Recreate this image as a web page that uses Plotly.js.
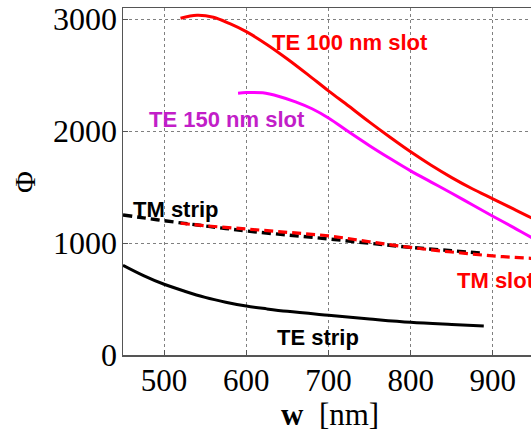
<!DOCTYPE html>
<html>
<head>
<meta charset="utf-8">
<script src="https://cdn.plot.ly/plotly-3.0.1.min.js"></script>
<style>
  html, body { margin: 0; padding: 0; overflow: hidden; background: #fff; }
  #chart { width: 600px; height: 432px; }
</style>
</head>
<body>
<div id="chart"></div>
<script>
// Width w [nm] and Phi values
const xTE100 = [520, 540, 560, 580, 600, 625, 650, 675, 700, 725, 750, 775, 800, 825, 850, 875, 900, 925, 950, 975];
const yTE100 = [3009, 3036, 3018, 2960, 2889, 2775, 2645, 2505, 2360, 2222, 2080, 1945, 1815, 1695, 1585, 1485, 1395, 1305, 1215, 1130];

const xTE150 = [590, 600, 620, 640, 660, 680, 700, 725, 750, 775, 800, 825, 850, 875, 900, 925, 950, 975];
const yTE150 = [2339, 2344, 2342, 2310, 2262, 2200, 2118, 1992, 1870, 1755, 1645, 1545, 1445, 1342, 1240, 1140, 1038, 945];

const xTMstrip = [450, 475, 500, 525, 550, 575, 600, 650, 700, 750, 800, 850, 888];
const yTMstrip = [1251, 1225, 1200, 1176, 1153, 1130, 1108, 1072, 1037, 998, 961, 932, 909];

const xTMslot = [520, 550, 600, 650, 700, 750, 800, 850, 900, 946, 975];
const yTMslot = [1177, 1155, 1126, 1096, 1064, 1012, 961, 920, 885, 864, 858];

const xTEstrip = [450, 475, 500, 525, 550, 575, 600, 625, 650, 700, 750, 800, 850, 889];
const yTEstrip = [802, 710, 632, 570, 515, 472, 437, 412, 390, 355, 322, 292, 272, 258];

const xTicks = [500, 600, 700, 800, 900, 1000];
const yTicks = [0, 1000, 2000, 3000];

const labelFont = 'Liberation Sans, Arial, sans-serif';
const serif = 'Liberation Serif, Times New Roman, serif';

const traces = [
  { x: xTEstrip, y: yTEstrip, mode: 'lines', line: { color: '#000000', width: 3, shape: 'spline', smoothing: 1 } },
  { x: xTMstrip, y: yTMstrip, mode: 'lines', line: { color: '#000000', width: 3.4, dash: '9px,5px', shape: 'spline', smoothing: 1 } },
  { x: xTMslot, y: yTMslot, mode: 'lines', line: { color: '#ff0000', width: 3.2, dash: '9px,5px', shape: 'spline', smoothing: 1 } },
  { x: xTE150, y: yTE150, mode: 'lines', line: { color: '#ff00ff', width: 3, shape: 'spline', smoothing: 1 } },
  { x: xTE100, y: yTE100, mode: 'lines', line: { color: '#ff0000', width: 3, shape: 'spline', smoothing: 1 } }
];

const layout = {
  width: 600,
  height: 432,
  margin: { l: 123, r: 25, t: 8, b: 77 },
  paper_bgcolor: '#ffffff',
  plot_bgcolor: '#ffffff',
  showlegend: false,
  xaxis: {
    range: [450, 1000],
    tickvals: xTicks,
    ticktext: xTicks.map(String),
    showgrid: true,
    gridcolor: '#808080',
    griddash: 'dot',
    gridwidth: 1,
    zeroline: false,
    showline: true,
    linecolor: '#555555',
    linewidth: 1.5,
    mirror: true,
    ticks: 'inside',
    ticklen: 5,
    tickcolor: '#555555',
    ticklabelstandoff: -3,
    tickfont: { family: serif, size: 31, color: '#000000' }
  },
  yaxis: {
    range: [0, 3100],
    tickvals: yTicks,
    ticktext: yTicks.map(String),
    showgrid: true,
    gridcolor: '#808080',
    griddash: 'dot',
    gridwidth: 1,
    zeroline: false,
    showline: true,
    linecolor: '#555555',
    linewidth: 1.5,
    mirror: true,
    ticks: 'inside',
    ticklen: 5,
    tickcolor: '#555555',
    ticklabelstandoff: -2,
    tickfont: { family: serif, size: 32, color: '#000000' }
  },
  annotations: [
    { text: '<b>TE 100 nm slot</b>', x: 726, y: 2788, xref: 'x', yref: 'y', showarrow: false,
      xanchor: 'center', yanchor: 'middle', font: { family: labelFont, size: 22, color: '#ff0000' } },
    { text: '<b>TE 150 nm slot</b>', x: 577, y: 2100, xref: 'x', yref: 'y', showarrow: false,
      xanchor: 'center', yanchor: 'middle', font: { family: labelFont, size: 22, color: '#c21ec8' } },
    { text: '<b>TM strip</b>', x: 515, y: 1296, xref: 'x', yref: 'y', showarrow: false,
      xanchor: 'center', yanchor: 'middle', font: { family: labelFont, size: 22, color: '#000000' } },
    { text: '<b>TM slot</b>', x: 854, y: 670, xref: 'x', yref: 'y', showarrow: false,
      xanchor: 'left', yanchor: 'middle', font: { family: labelFont, size: 22, color: '#ff0000' } },
    { text: '<b>TE strip</b>', x: 687, y: 155, xref: 'x', yref: 'y', showarrow: false,
      xanchor: 'center', yanchor: 'middle', font: { family: labelFont, size: 22, color: '#000000' } },
    { text: '<b>w</b>\u00a0\u00a0[nm]', x: 0.459, y: -0.172, xref: 'paper', yref: 'paper', showarrow: false,
      xanchor: 'center', yanchor: 'middle', font: { family: serif, size: 31, color: '#000000' } },
    { text: '\u03a6', x: -0.2168, y: 0.4986, xref: 'paper', yref: 'paper', showarrow: false, textangle: -90,
      xanchor: 'center', yanchor: 'middle', font: { family: serif, size: 30, color: '#000000' } }
  ]
};

Plotly.newPlot('chart', traces, layout, { staticPlot: true, displayModeBar: false });
</script>
</body>
</html>
